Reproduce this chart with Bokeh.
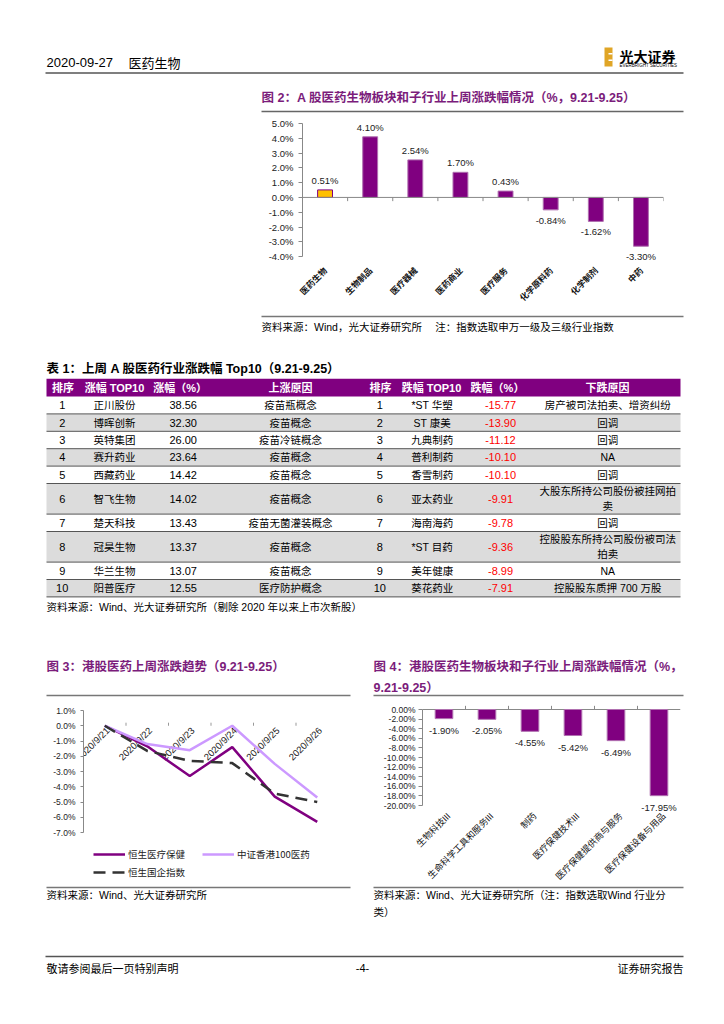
from math import pi
from bokeh.plotting import figure
from bokeh.models import (Range1d, FixedTicker, PrintfTickFormatter, Legend, LegendItem, Span,
                          Spacer, LabelSet, ColumnDataSource)
from bokeh.layouts import column, row
from bokeh.core.properties import value
from bokeh.embed import file_html
from bokeh.resources import INLINE

# ---------------- data ----------------
fig2_categories = ["医药生物", "生物制品", "医疗器械", "医药商业", "医疗服务", "化学原料药", "化学制剂", "中药"]
fig2_values = [0.51, 4.10, 2.54, 1.70, 0.43, -0.84, -1.62, -3.30]
fig2_ticks = [5, 4, 3, 2, 1, 0, -1, -2, -3, -4]

table_rank = [1, 2, 3, 4, 5, 6, 7, 8, 9, 10]
up_names = ["正川股份", "博晖创新", "英特集团", "赛升药业", "西藏药业", "智飞生物", "楚天科技", "冠昊生物", "华兰生物", "阳普医疗"]
up_pct = [38.56, 32.30, 26.00, 23.64, 14.42, 14.02, 13.43, 13.37, 13.07, 12.55]
up_reason = ["疫苗瓶概念", "疫苗概念", "疫苗冷链概念", "疫苗概念", "疫苗概念", "疫苗概念", "疫苗无菌灌装概念", "疫苗概念", "疫苗概念", "医疗防护概念"]
down_names = ["*ST 华塑", "ST 康美", "九典制药", "普利制药", "香雪制药", "亚太药业", "海南海药", "*ST 目药", "美年健康", "葵花药业"]
down_pct = [-15.77, -13.90, -11.12, -10.10, -10.10, -9.91, -9.78, -9.36, -8.99, -7.91]
down_reason = ["房产被司法拍卖、增资纠纷", "回调", "回调", "NA", "回调", "大股东所持公司股份被挂网拍卖", "回调",
               "控股股东所持公司股份被司法拍卖", "NA", "控股股东质押 700 万股"]
table_header = ["排序", "涨幅 TOP10", "涨幅（%）", "上涨原因", "排序", "跌幅 TOP10", "跌幅（%）", "下跌原因"]

fig3_dates = ["2020/9/21", "2020/9/22", "2020/9/23", "2020/9/24", "2020/9/25", "2020/9/26"]
fig3_hs_healthcare = [0.0, -1.35, -3.30, -1.40, -4.65, -6.30]
fig3_csi_hk100_pharma = [0.0, -1.20, -1.60, 0.00, -2.50, -4.70]
fig3_hs_china_ent = [0.0, -1.65, -2.30, -2.45, -4.45, -5.00]
fig3_names = ["恒生医疗保健", "中证香港100医药", "恒生国企指数"]
fig3_ticks = [1, 0, -1, -2, -3, -4, -5, -6, -7]

fig4_categories = ["生物科技III", "生命科学工具和服务III", "制药", "医疗保健技术III", "医疗保健提供商与服务", "医疗保健设备与用品"]
fig4_values = [-1.90, -2.05, -4.55, -5.42, -6.49, -17.95]
fig4_ticks = [0, -2, -4, -6, -8, -10, -12, -14, -16, -18, -20]

header_date = "2020-09-27"
header_sector = "医药生物"
fig2_title = "图 2：A 股医药生物板块和子行业上周涨跌幅情况（%，9.21-9.25）"
fig2_source = "资料来源：Wind，光大证券研究所　 注：指数选取申万一级及三级行业指数"
table_title = "表 1：上周 A 股医药行业涨跌幅 Top10（9.21-9.25）"
table_source = "资料来源：Wind、光大证券研究所（剔除 2020 年以来上市次新股）"
fig3_title = "图 3：港股医药上周涨跌趋势（9.21-9.25）"
fig4_title = ["图 4：港股医药生物板块和子行业上周涨跌幅情况（%，", "9.21-9.25）"]
fig3_source = "资料来源：Wind、光大证券研究所"
fig4_source = ["资料来源：Wind、光大证券研究所（注：指数选取Wind 行业分", "类）"]
footer = ["敬请参阅最后一页特别声明", "-4-", "证券研究报告"]

# ---------------- style ----------------
PURPLE = "#800080"
TITLE_C = "#7B1C7B"
GOLD = "#FFC000"
LAVENDER = "#CC99FF"
DARK = "#333333"
CN = "Noto Sans CJK SC"
LAT = "Liberation Sans"
MIX = "Liberation Sans, Noto Sans CJK SC"
PAGE_W = 724


def band(top, bottom):
    p = figure(width=PAGE_W, height=bottom - top, x_range=Range1d(0, PAGE_W), y_range=Range1d(bottom, top),
               toolbar_location=None, output_backend="svg", min_border=0,
               x_axis_location=None, y_axis_location=None)
    p.outline_line_color = None
    p.grid.visible = False
    return p


def put(p, x, y, s, size, color="#000000", bold=False, align="left", font=MIX, baseline="middle"):
    p.text(x=[x], y=[y], text=[s], text_font=value(font), text_font_size=f"{size}px",
           text_color=color, text_font_style="bold" if bold else "normal",
           text_align=align, text_baseline=baseline)


def hline(p, x0, x1, y, color="#666666", width=1.2):
    p.segment(x0=[x0], y0=[y], x1=[x1], y1=[y], line_color=color, line_width=width)


def wrap(s, limit=13.2):
    lines, cur, w = [], "", 0.0
    for ch in s:
        cw = 0.55 if ord(ch) < 128 else 1.0
        if w + cw > limit:
            lines.append(cur)
            cur, w = "", 0.0
        cur += ch
        w += cw
    lines.append(cur)
    return lines


def style_axis(ax, ticks, fmt, size):
    ax.ticker = FixedTicker(ticks=ticks)
    ax.formatter = PrintfTickFormatter(format=fmt)
    ax.bounds = (min(ticks), max(ticks))
    ax.major_label_text_font = LAT
    ax.major_label_text_font_size = f"{size}px"
    ax.major_label_text_color = "#222222"
    ax.axis_line_color = "#888888"
    ax.major_tick_line_color = "#888888"
    ax.minor_tick_line_color = None
    ax.major_tick_in = 0
    ax.major_tick_out = 4


def cat_axis(ax, ticks, names, font, size, bold=False, standoff=2):
    ax.ticker = FixedTicker(ticks=ticks)
    ax.major_label_overrides = {x: c for x, c in zip(ticks, names)}
    ax.major_label_orientation = pi / 4
    ax.major_label_text_font = font
    ax.major_label_text_font_style = "bold" if bold else "normal"
    ax.major_label_text_font_size = f"{size}px"
    ax.major_label_text_color = "#111111"
    ax.axis_line_color = None
    ax.major_tick_line_color = None
    ax.minor_tick_line_color = None
    ax.major_label_standoff = standoff


def value_labels(p, xs, ys, baseline, offset):
    src = ColumnDataSource(dict(x=xs, y=ys, t=[f"{v:.2f}%" for v in ys]))
    p.add_layout(LabelSet(x="x", y="y", text="t", source=src, text_font=value(LAT), text_font_size="9.5px",
                          text_color="#222222", text_align="center", text_baseline=baseline, y_offset=offset))


# ---------------- band A: header ----------------
pa = band(0, 115)
put(pa, 46, 62, header_date, 13, font=LAT)
put(pa, 128, 62, header_sector, 13, font=CN)
hline(pa, 45, 683, 72.5, "#555555", 1.6)
pa.quad(left=[604], right=[612], top=[47], bottom=[66], fill_color="#E0A526", line_color=None)
pa.quad(left=[608, 608], right=[612, 612], top=[52.5, 59], bottom=[54, 60.5], fill_color="white", line_color=None)
put(pa, 619, 55, "光大证券", 14, bold=True, font=CN)
put(pa, 619, 65, "EVERBRIGHT SECURITIES", 4.5, font=LAT)
put(pa, 261, 97, fig2_title, 12.5, color=TITLE_C, bold=True)
hline(pa, 261, 683, 111, "#666666", 1.5)

# ---------------- band B: figure 2 ----------------
n2 = len(fig2_categories)
x2 = [i + 0.5 for i in range(n2)]
p2 = figure(width=433, height=195, x_range=Range1d(0, n2), y_range=Range1d(min(fig2_ticks) - 0.4, max(fig2_ticks)),
            toolbar_location=None, output_backend="svg",
            min_border_left=52, min_border_right=20, min_border_top=8, min_border_bottom=42)
p2.outline_line_color = None
p2.grid.visible = False
fill2 = [GOLD if i == 0 else PURPLE for i in range(n2)]
line2 = [PURPLE if i == 0 else "#B070B0" for i in range(n2)]
p2.vbar(x=x2, top=fig2_values, width=0.33, fill_color=fill2, line_color=line2, line_width=1)
p2.add_layout(Span(location=0, dimension="width", line_color="#888888", line_width=1))
bounds2 = list(range(1, n2 + 1))
p2.segment(x0=bounds2, y0=[0] * len(bounds2), x1=bounds2, y1=[-0.25] * len(bounds2), line_color="#888888")
value_labels(p2, [x for x, v in zip(x2, fig2_values) if v >= 0], [v for v in fig2_values if v >= 0], "bottom", 4)
value_labels(p2, [x for x, v in zip(x2, fig2_values) if v < 0], [v for v in fig2_values if v < 0], "top", -5)
style_axis(p2.left[0], fig2_ticks, "%.1f%%", 9.5)
cat_axis(p2.below[0], x2, fig2_categories, CN, 8.5, bold=True, standoff=0)

# ---------------- band C: sources, table, titles ----------------
pc = band(310, 698)
hline(pc, 261, 683, 316, "#777777", 1.5)
put(pc, 261, 326, fig2_source, 10.5)
put(pc, 46, 368, table_title, 12.5, bold=True)

T_LEFT, T_RIGHT = 46, 680
HEAD_TOP, HEAD_BOT = 378.3, 396
ROW_H, LINE_H = 17.4, 13.2
col_x = [61.7, 114, 182.7, 290, 379.3, 431.7, 500, 607.3]
head_x = [62.5, 114, 179.7, 290, 380, 431, 497, 607]
pc.quad(left=[T_LEFT], right=[T_RIGHT], top=[HEAD_TOP], bottom=[HEAD_BOT], fill_color=PURPLE, line_color=None)
pc.text(x=head_x, y=[(HEAD_TOP + HEAD_BOT) / 2] * len(head_x), text=table_header, text_font=value(MIX),
        text_font_size="11px", text_font_style="bold", text_color="white", text_align="center",
        text_baseline="middle")

centers, tops, bots = [], [], []
y = HEAD_BOT
for i in range(len(table_rank)):
    nl = max(len(wrap(up_reason[i])), len(wrap(down_reason[i])))
    h = ROW_H + (nl - 1) * LINE_H
    tops.append(y)
    bots.append(y + h)
    centers.append(y + h / 2)
    y += h
gray_idx = [i for i in range(len(table_rank)) if i % 2 == 1]
pc.quad(left=[T_LEFT] * len(gray_idx), right=[T_RIGHT] * len(gray_idx), top=[tops[i] for i in gray_idx],
        bottom=[bots[i] for i in gray_idx], fill_color="#DCDCDC", line_color=None)
pc.segment(x0=[T_LEFT] * len(bots), y0=bots, x1=[T_RIGHT] * len(bots), y1=bots, line_color="#555555", line_width=1)

cells = [
    ([str(r) for r in table_rank], col_x[0], "#000000", LAT, 11),
    (up_names, col_x[1], "#000000", MIX, 10.5),
    ([f"{v:.2f}" for v in up_pct], col_x[2], "#000000", LAT, 11),
    (["\n".join(wrap(s)) for s in up_reason], col_x[3], "#000000", MIX, 10.5),
    ([str(r) for r in table_rank], col_x[4], "#000000", LAT, 11),
    (down_names, col_x[5], "#000000", MIX, 10.5),
    ([f"{v:.2f}" for v in down_pct], col_x[6], "#FF0000", LAT, 11),
    (["\n".join(wrap(s)) for s in down_reason], col_x[7], "#000000", MIX, 10.5),
]
for texts, cx, colr, fnt, sz in cells:
    pc.text(x=[cx] * len(texts), y=centers, text=texts, text_font=value(fnt), text_font_size=f"{sz}px",
            text_color=colr, text_align="center", text_baseline="middle", text_line_height=1.25)

put(pc, 46, 606, table_source, 10.5)
put(pc, 46, 666, fig3_title, 12.5, color=TITLE_C, bold=True)
put(pc, 373, 666, fig4_title[0], 12.5, color=TITLE_C, bold=True)
put(pc, 373, 687, fig4_title[1], 12.5, color=TITLE_C, bold=True)
hline(pc, 46, 350, 695, "#777777", 1.3)
hline(pc, 373, 683, 695, "#777777", 1.3)

# ---------------- band D: figures 3 and 4 share one frame height ----------------
D_H, D_TOP, D_BOT = 186, 7, 0
FRAME_H = D_H - D_TOP - D_BOT

# figure 3: 15.25 px per percentage point, 1.0% sits 5 px below the frame top
PX3 = 15.25
y3_top = max(fig3_ticks) + 5 / PX3
n3 = len(fig3_dates)
x3 = [i + 0.5 for i in range(n3)]
p3 = figure(width=350, height=D_H, x_range=Range1d(0, n3), y_range=Range1d(y3_top - FRAME_H / PX3, y3_top),
            toolbar_location=None, output_backend="svg", x_axis_location=None,
            min_border_left=83, min_border_right=12, min_border_top=D_TOP, min_border_bottom=D_BOT)
p3.outline_line_color = None
p3.grid.visible = False
bounds3 = list(range(1, n3))
p3.segment(x0=bounds3, y0=[0] * len(bounds3), x1=bounds3, y1=[0.2] * len(bounds3), line_color="#999999")
p3.text(x=x3, y=[0] * n3, text=fig3_dates, angle=pi / 4, text_font=value(LAT), text_font_size="9.5px",
        text_color="#222222", text_align="right", text_baseline="middle", x_offset=3, y_offset=3)
r_a = p3.line(x3, fig3_hs_healthcare, line_color=PURPLE, line_width=2.5)
r_b = p3.line(x3, fig3_csi_hk100_pharma, line_color=LAVENDER, line_width=2.5)
r_c = p3.line(x3, fig3_hs_china_ent, line_color=DARK, line_width=2.5, line_dash="12 7")
style_axis(p3.left[0], fig3_ticks, "%.1f%%", 8.5)
p3.left[0].major_tick_out = 3
leg = Legend(items=[LegendItem(label=fig3_names[0], renderers=[r_a]),
                    LegendItem(label=fig3_names[1], renderers=[r_b]),
                    LegendItem(label=fig3_names[2], renderers=[r_c])],
             location=(10, 5), orientation="horizontal", ncols=2)
leg.background_fill_alpha = 0
leg.border_line_color = None
leg.padding = 0
leg.margin = 0
leg.spacing = 4
leg.glyph_width = 32
leg.glyph_height = 14
leg.label_height = 14
leg.label_width = 70
leg.label_standoff = 3
leg.label_text_font = CN
leg.label_text_font_size = "9.5px"
leg.label_text_color = "#222222"
p3.add_layout(leg, "center")

# figure 4: 4.8 px per percentage point and 43 px per category; 0% sits 4 px below the frame top.
# The frame reaches about one category to the left of the value axis (drawn at x = 0), so the axis
# labels and the slanted category names stay inside it.
PX4 = 4.8
X4_PAD = 1.023
y4_top = max(fig4_ticks) + 4 / PX4
n4 = len(fig4_categories)
x4 = [i + 0.5 for i in range(n4)]
p4 = figure(width=374, height=D_H, x_range=Range1d(-X4_PAD, n4), y_range=Range1d(y4_top - FRAME_H / PX4, y4_top),
            toolbar_location=None, output_backend="svg", x_axis_location=None,
            min_border_left=28, min_border_right=44, min_border_top=D_TOP, min_border_bottom=D_BOT)
p4.outline_line_color = None
p4.grid.visible = False
p4.segment(x0=[0], y0=[0], x1=[n4], y1=[0], line_color="#888888", line_width=1)
bounds4 = list(range(1, n4))
p4.segment(x0=bounds4, y0=[0] * len(bounds4), x1=bounds4, y1=[0.8] * len(bounds4), line_color="#888888")
p4.vbar(x=x4, top=fig4_values, width=0.41, fill_color=PURPLE, line_color="#B070B0", line_width=1)
value_labels(p4, x4, fig4_values, "top", -6)
p4.text(x=x4, y=[min(fig4_ticks)] * n4, text=fig4_categories, angle=pi / 4, text_font=value(MIX),
        text_font_size="9px", text_color="#111111", text_align="right", text_baseline="middle",
        x_offset=5, y_offset=9)
style_axis(p4.left[0], fig4_ticks, "%.2f%%", 8.5)
p4.left[0].fixed_location = 0
p4.left[0].major_label_standoff = 3

# ---------------- band E: sources and footer ----------------
pe = band(884, 1024)
hline(pe, 46, 350, 887, "#777777", 1.3)
hline(pe, 373, 683, 887, "#777777", 1.3)
put(pe, 46, 894, fig3_source, 10.5)
put(pe, 373, 894, fig4_source[0], 10.5)
put(pe, 373, 911, fig4_source[1], 10.5)
hline(pe, 45, 683, 956, "#555555", 1.6)
put(pe, 46, 967, footer[0], 11, font=CN)
put(pe, 362, 967, footer[1], 11, font=LAT, align="center")
put(pe, 683, 967, footer[2], 11, font=CN, align="right")

layout = column(pa, row(Spacer(width=250, height=195), p2, spacing=0), pc, row(p3, p4, spacing=0), pe, spacing=0)
open("out.html", "w").write(file_html(layout, INLINE))
